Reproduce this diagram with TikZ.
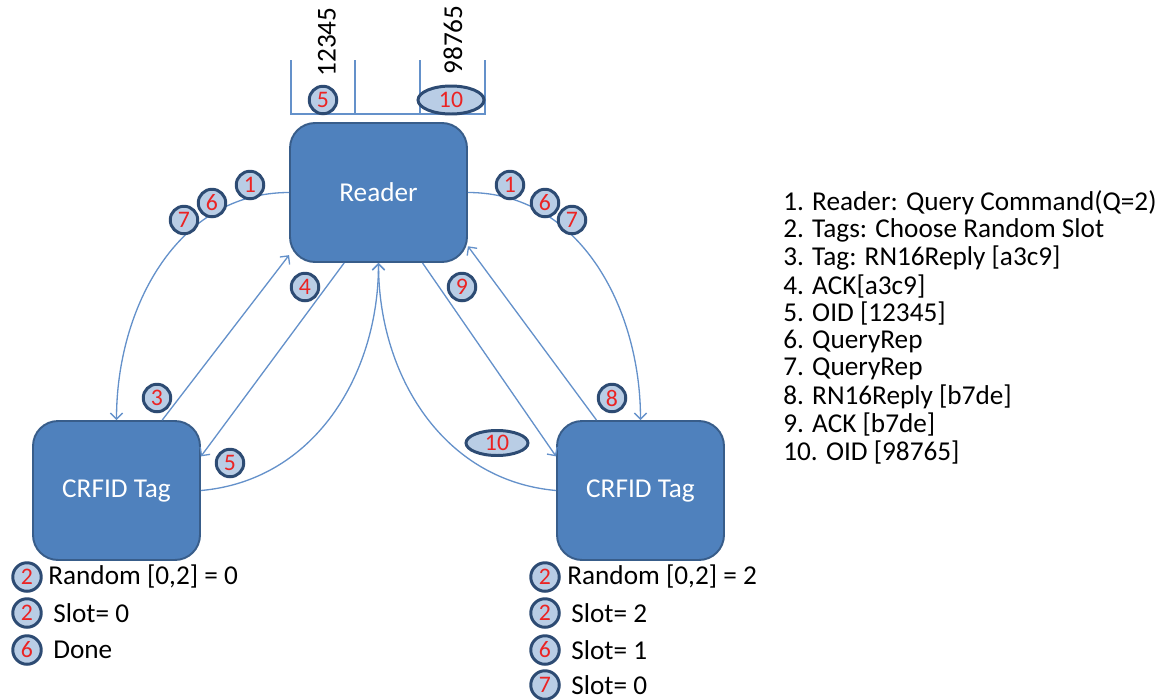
\documentclass[tikz,border=0pt]{standalone}
\usepackage{fontspec}
\setmainfont{Carlito}
\usepackage{tikz}
\usetikzlibrary{arrows.meta,shapes.geometric}
\definecolor{boxfill}{RGB}{79,129,189}
\definecolor{boxline}{RGB}{56,93,138}
\definecolor{linkc}{RGB}{100,145,202}
\definecolor{badgefill}{RGB}{185,205,229}
\definecolor{badgeline}{RGB}{45,75,115}
\definecolor{numc}{RGB}{235,35,35}
\tikzset{
  box/.style={draw=boxline,line width=1.1pt,fill=boxfill,rounded corners=0.5cm,
    text=white,font=\fontsize{15.5}{17}\selectfont,minimum height=2.78cm},
  badge/.style={circle,draw=badgeline,line width=1.7pt,fill=badgefill,text=numc,
    inner sep=0pt,minimum size=0.55cm,font=\fontsize{13.5}{13.5}\selectfont},
  ebadge/.style={badge,ellipse,minimum width=1.24cm,minimum height=0.5cm},
  link/.style={draw=linkc,line width=0.75pt},
  txt/.style={font=\fontsize{15.5}{17}\selectfont,inner sep=0pt,anchor=west},
}

\begin{document}
\begin{tikzpicture}[x=0.02cm,y=-0.02cm,>={Straight Barb[length=3.5pt,width=7pt]}]
\useasboundingbox (0,0) rectangle (1164,700);
% reader and the two tags
\node[box,minimum width=3.54cm] (reader) at (378.5,192.5) {Reader};
\node[box,minimum width=3.34cm] (tagL) at (116.5,490.5) {CRFID Tag};
\node[box,minimum width=3.34cm] (tagR) at (640.5,490.5) {CRFID Tag};
% query / queryrep arcs
\draw[link,->] (reader.west) to[out=180,in=90] (tagL.north);
\draw[link,->] (reader.east) to[out=0,in=90] (tagR.north);
% left tag: reply, ack, oid
\draw[link,->] (tagL.57) -- (reader.215);
\draw[link,->] (reader.244) -- (tagL.22);
\draw[link,->] (tagL.east) to[out=5,in=270] (reader.south);
% right tag: reply, ack, oid
\draw[link,->] (tagR.122) -- (reader.329);
\draw[link,->] (reader.302) -- (tagR.158);
\draw[link,->] (tagR.west) to[out=175,in=270] (reader.south);
% id slots above the reader
\draw[link] (291,60) -- (291,114) -- (485,114) -- (485,60);
\foreach \x in {355,420}{
  \draw[link] (\x,60) -- (\x,114);
}
\node[txt,rotate=90,anchor=center] (oidA) at (327,42) {12345};
\node[txt,rotate=90,anchor=center] (oidB) at (453,40) {98765};
\node[badge] (top5) at (323,100) {5};
\node[ebadge,minimum width=1.32cm,minimum height=0.56cm] (top10) at (451,100) {10};
% step badges on the connectors
\foreach \n/\x/\y [count=\k] in {1/250/185,6/212/203,7/184/220,1/510/185,6/545/203,7/572/220,
    4/305/287,9/462/287,3/157/398,5/230/463,8/612/398}{
  \node[badge] (b\k) at (\x,\y) {\n};
}
\node[ebadge] (b10) at (497,443) {10};
% slot state under the left tag
\foreach \n/\y/\x/\t [count=\k] in {2/577/48/{Random [0,2] = 0},2/613/53/{Slot= 0},6/650/53/{Done}}{
  \node[badge,minimum size=0.57cm] (sl\k) at (27,\y) {\n};
  \node[txt] (stl\k) at (\x,\y) {\t};
}
% slot state under the right tag
\foreach \n/\y/\x/\t [count=\k] in {2/577/567/{Random [0,2] = 2},2/613/571/{Slot= 2},6/650/571/{Slot= 1},7/685/571/{Slot= 0}}{
  \node[badge,minimum size=0.57cm] (sr\k) at (545,\y) {\n};
  \node[txt] (str\k) at (\x,\y) {\t};
}
% legend
\foreach \t [count=\i] in {1. Reader: Query Command(Q=2),2. Tags: Choose Random Slot,
    3. Tag: RN16Reply [a3c9],4. ACK[a3c9],5. OID [12345],6. QueryRep,7. QueryRep,
    8. RN16Reply [b7de],9. ACK [b7de],10. OID [98765]}{
  \node[txt] (leg\i) at (783,{203+27.7*(\i-1)}) {\t};
}
\end{tikzpicture}
\end{document}
